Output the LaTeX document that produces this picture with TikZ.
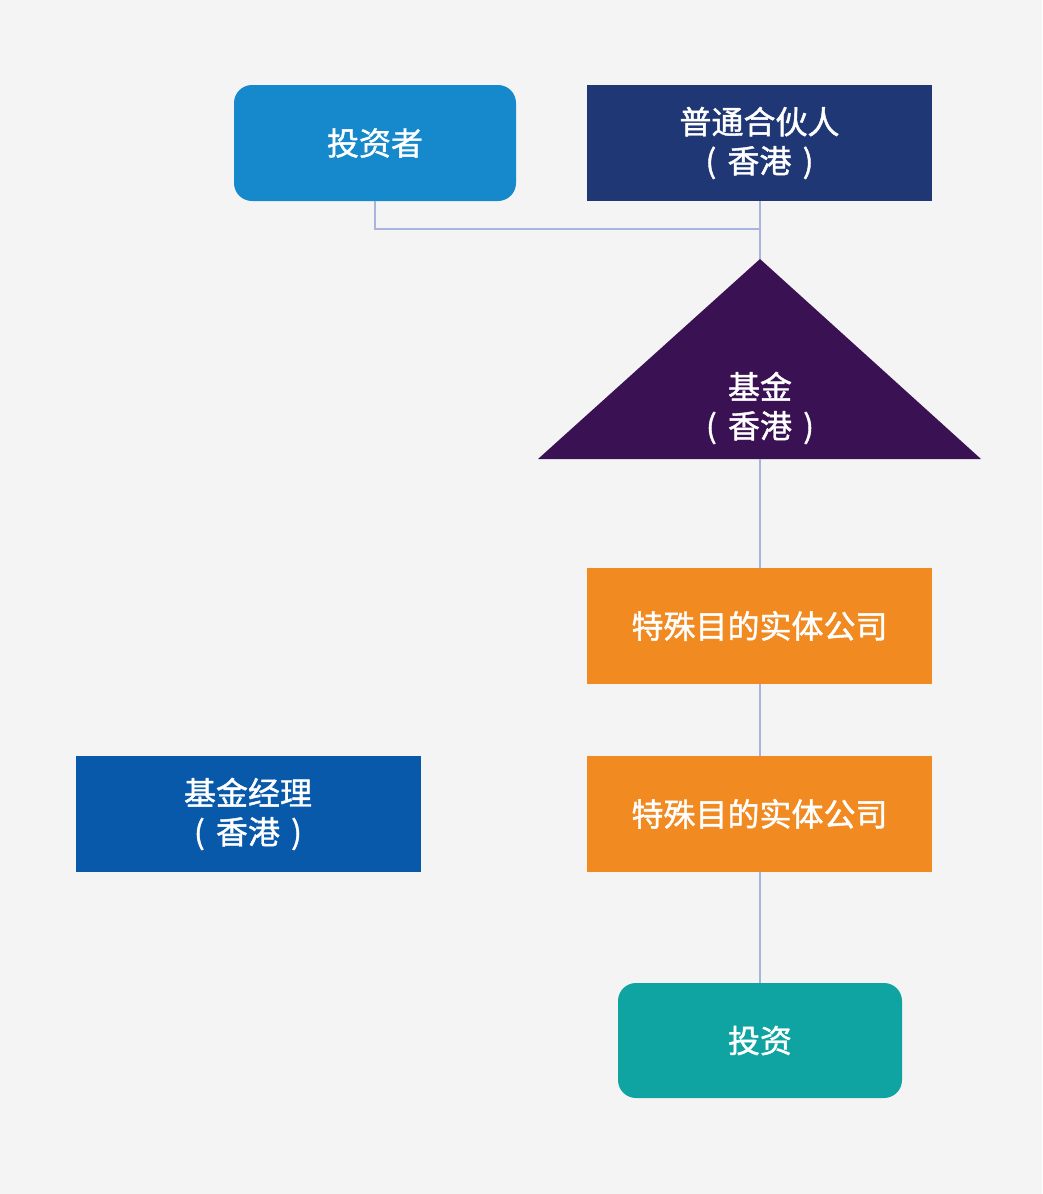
\documentclass[tikz,border=0pt]{standalone}
\usepackage{fontspec}
\setmainfont{Noto Sans CJK SC}[FakeBold=1.3]
\definecolor{bg}{HTML}{F4F4F4}
\definecolor{cinv}{HTML}{1589CB}
\definecolor{cgp}{HTML}{1F3775}
\definecolor{cfund}{HTML}{3A1152}
\definecolor{cspv}{HTML}{F28A22}
\definecolor{cmgr}{HTML}{0859AA}
\definecolor{cout}{HTML}{0FA3A1}
\definecolor{cline}{HTML}{A8B4DE}
\newcommand{\hk}{(\hspace{0.35em}香港\hspace{0.35em})}
\begin{document}
\begin{tikzpicture}[x=1pt,y=-1pt,
  txt/.style={text=white,font=\fontsize{32pt}{39pt}\selectfont,align=center,inner sep=0pt},
  box/.style={txt,minimum width=345pt,minimum height=116pt},
  rbox/.style={box,rounded corners=18pt},
  conn/.style={draw=cline,line width=2pt}]
\fill[bg] (0,0) rectangle (1042,1194);
\useasboundingbox (0,0) rectangle (1042,1194);
\node[rbox,fill=cinv,minimum width=282pt] (inv) at (375,143) {投资者};
\node[box,fill=cgp] (gp) at (759.5,143) {普通合伙人\\\hk};
\coordinate (apex) at (760,259);
\coordinate (fbot) at (760,459);
\fill[cfund] (apex) -- (981,459) -- (538,459) -- cycle;
\node[txt] (fund) at (760,408) {基金\\\hk};
\node[box,fill=cspv] (spv1) at (759.5,626) {特殊目的实体公司};
\node[box,fill=cspv] (spv2) at (759.5,814) {特殊目的实体公司};
\node[box,fill=cmgr] (mgr) at (248,814) {基金经理\\\hk};
\node[rbox,fill=cout,minimum width=284pt,minimum height=115pt] (out) at (760,1040.5) {投资};
\coordinate (j) at (760,229);
\draw[conn] (inv.south) |- (j);
\draw[conn] (gp.south -| apex) -- (apex);
\draw[conn] (fbot) -- (spv1.north -| fbot);
\draw[conn] (spv1.south -| fbot) -- (spv2.north -| fbot);
\draw[conn] (spv2.south -| fbot) -- (out.north);
\end{tikzpicture}
\end{document}
